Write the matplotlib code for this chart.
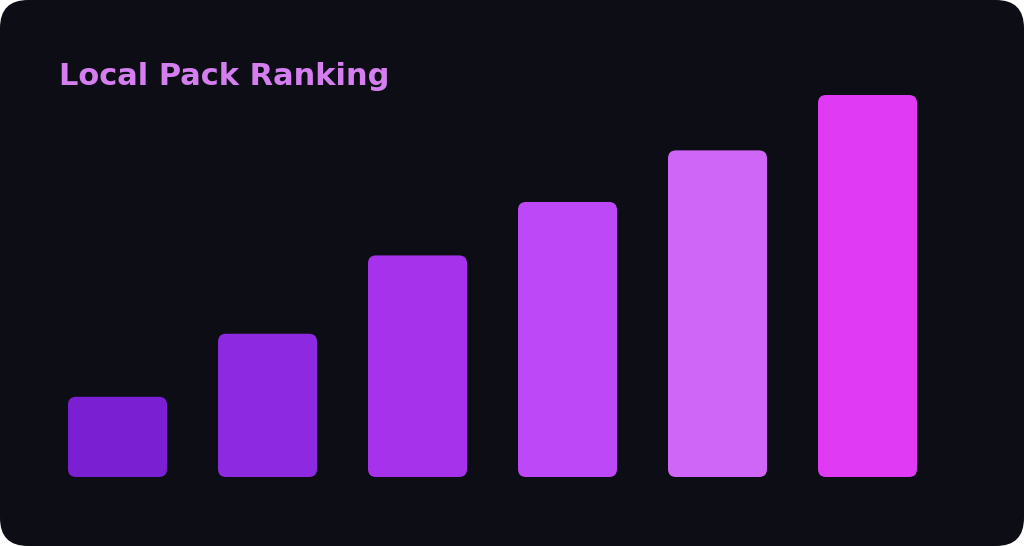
#!/usr/bin/env python
# -*- coding: utf-8 -*-
"""
Local Pack Ranking - rounded bar chart on a dark card
"""
import matplotlib
matplotlib.use('Agg')
import matplotlib.pyplot as plt
from matplotlib.patches import FancyBboxPatch

# =============================================================================
# Data
# =============================================================================
categories = ['1', '2', '3', '4', '5', '6']
values = [21, 37.5, 58, 72, 85.5, 100]
bar_colors = ['#7a1fd2', '#8d29e0', '#a632ec', '#bd48f7', '#d066f8', '#e03af5']
title = 'Local Pack Ranking'

# =============================================================================
# Layout
# =============================================================================
W, H = 1024, 546
BG = '#0d0e15'
TITLE_COLOR = '#d47ef0'

fig = plt.figure(figsize=(W / 100, H / 100), dpi=100, facecolor='white')

# dark rounded card behind everything
card = FancyBboxPatch((0, 0), 1, 1, boxstyle='round,pad=0,rounding_size=%f' % (28 / W),
                      mutation_aspect=W / H, transform=fig.transFigure,
                      facecolor=BG, edgecolor='none', zorder=-10)
fig.patches.append(card)

# axes: bottom of bars at 477px, top of tallest at 95px
left_px, right_px = 42.5, 942.5
bot_px, top_px = 477, 95
ax = fig.add_axes([left_px / W, 1 - bot_px / H,
                   (right_px - left_px) / W, (bot_px - top_px) / H])
ax.set_facecolor('none')
ax.set_zorder(5)
ax.set_xlim(-0.5, len(categories) - 0.5)
ax.set_ylim(0, max(values))
ax.axis('off')

bars = ax.bar(range(len(categories)), values, width=0.66, color=bar_colors)

# swap the square bars for rounded ones
x_per_px = (len(categories)) / (right_px - left_px)
y_per_px = max(values) / (bot_px - top_px)
radius = 8 * x_per_px
for b in bars:
    x, y = b.get_x(), b.get_y()
    w, h = b.get_width(), b.get_height()
    rb = FancyBboxPatch((x, y), w, h,
                        boxstyle='round,pad=0,rounding_size=%f' % radius,
                        mutation_aspect=y_per_px / x_per_px,
                        facecolor=b.get_facecolor(), edgecolor='none')
    b.set_visible(False)
    ax.add_patch(rb)

fig.text(59 / W, 1 - 85 / H, title, color=TITLE_COLOR, fontsize=22,
         fontweight='bold', family='DejaVu Sans', ha='left', va='baseline',
         zorder=6)

fig.savefig('out.png', dpi=100, facecolor='white')
